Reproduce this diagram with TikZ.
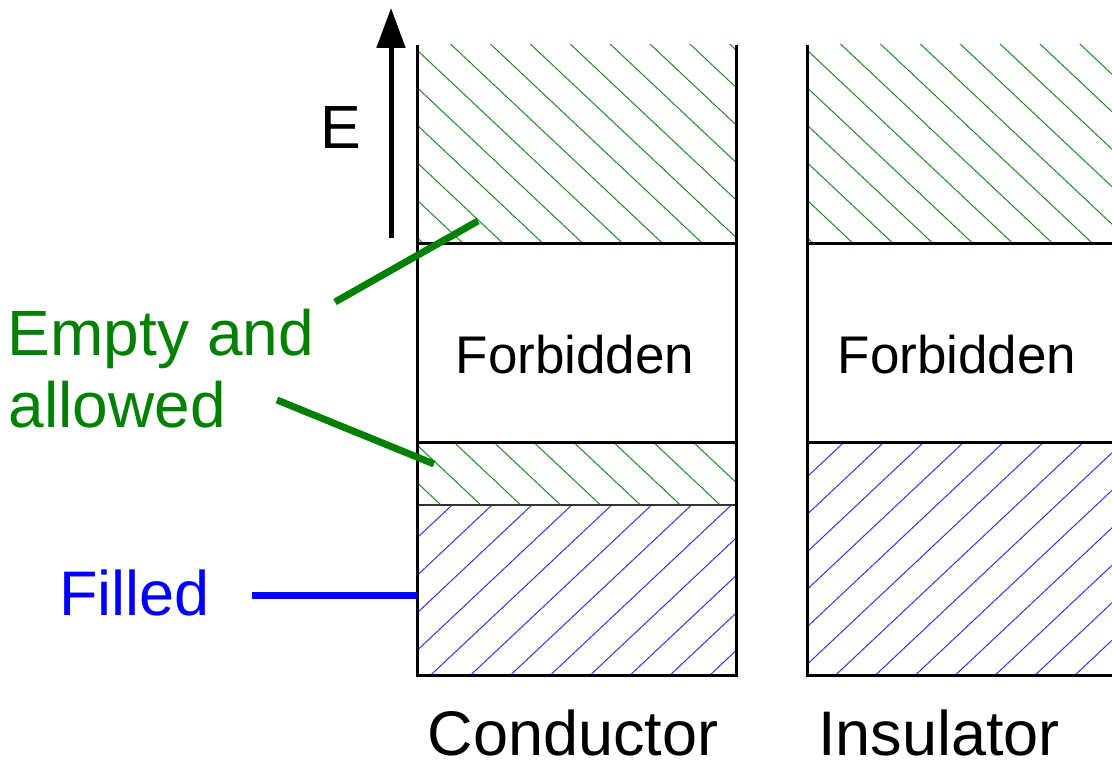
\documentclass[tikz,border=0pt]{standalone}
\usepackage{fontspec}
\setmainfont{Liberation Sans}
\usetikzlibrary{arrows.meta}
\definecolor{lblgreen}{RGB}{0,128,0}
\definecolor{lblblue}{RGB}{0,0,255}
\definecolor{hgreen}{RGB}{30,140,30}
\definecolor{hblue}{RGB}{50,50,240}
\tikzset{
  greenhatch/.style={draw=hgreen,line width=1pt},
  bluehatch/.style={draw=hblue,line width=1pt},
  boxline/.style={draw=black,line width=3pt},
  thinline/.style={draw=black!80,line width=1.2pt},
  leadg/.style={draw=lblgreen,line width=7pt},
  leadb/.style={draw=lblblue,line width=7pt},
  txt/.style={inner sep=0pt,outer sep=0pt},
}
% #1 left x, #2 top y, #3 right x, #4 bottom y, #5 first intercept at left edge
\newcommand{\ghatch}[5]{%
  \begin{scope}
    \clip (#1,#2) rectangle (#3,#4);
    \foreach \k in {-14,...,8} {\draw[greenhatch] (#1,#5+\k*37.5) -- ++(420,394.8);}
  \end{scope}}
\newcommand{\bhatch}[5]{%
  \begin{scope}
    \clip (#1,#2) rectangle (#3,#4);
    \foreach \k in {-2,...,16} {\draw[bluehatch] (#1,#5+\k*37.5) -- ++(420,-394.8);}
  \end{scope}}
\begin{document}
\begin{tikzpicture}[x=1pt,y=-1pt]
\useasboundingbox (0,0) rectangle (1112,768);
% hatching
\ghatch{417}{45}{736}{243}{50}
\ghatch{417}{442}{736}{505}{445}
\bhatch{417}{505}{736}{675}{500.5}
\ghatch{807}{45}{1112}{243}{50}
\bhatch{807}{442}{1112}{675}{439.5}
% conductor box
\draw[thinline] (417,505) -- (736,505);
\draw[boxline] (417,243) -- (736,243);
\draw[boxline] (417,442) -- (736,442);
\draw[boxline] (417,45) -- (417,675) -- (736,675) -- (736,45);
% insulator box
\draw[boxline] (807,243) -- (1112,243);
\draw[boxline] (807,442) -- (1112,442);
\draw[boxline] (807,45) -- (807,675) -- (1112,675);
% energy arrow
\coordinate (ea) at (391,238);
\coordinate (eb) at (391,8);
\draw[line width=5pt,-{Triangle[length=40pt,width=28pt]}] (ea) -- (eb);
\node[txt,anchor=base] (E) at (341,148) {\fontsize{61}{70}\selectfont E};
% texts
\node[txt,anchor=base] (f1) at (575,373) {\fontsize{53}{60}\selectfont Forbidden};
\node[txt,anchor=base] (f2) at (957,373) {\fontsize{53}{60}\selectfont Forbidden};
\node[txt,anchor=base] (cond) at (573,755) {\fontsize{63}{70}\selectfont Conductor};
\node[txt,anchor=base] (ins) at (939,755) {\fontsize{63}{70}\selectfont Insulator};
\node[txt,anchor=base west,text=lblgreen] (empty) at (8,355) {\fontsize{64}{72}\selectfont Empty and};
\node[txt,anchor=base west,text=lblgreen] (allowed) at (9,427) {\fontsize{64}{72}\selectfont allowed};
\node[txt,anchor=base west,text=lblblue] (filled) at (59,615) {\fontsize{63}{72}\selectfont Filled};
% leader lines
\coordinate (g1a) at (335,302);
\coordinate (g1b) at (478,221);
\coordinate (g2a) at (277,400);
\coordinate (g2b) at (434,464);
\coordinate (b1a) at (252,595);
\coordinate (b1b) at (417,595);
\draw[leadg] (g1a) -- (g1b);
\draw[leadg] (g2a) -- (g2b);
\draw[leadb] (b1a) -- (b1b);
\end{tikzpicture}
\end{document}
